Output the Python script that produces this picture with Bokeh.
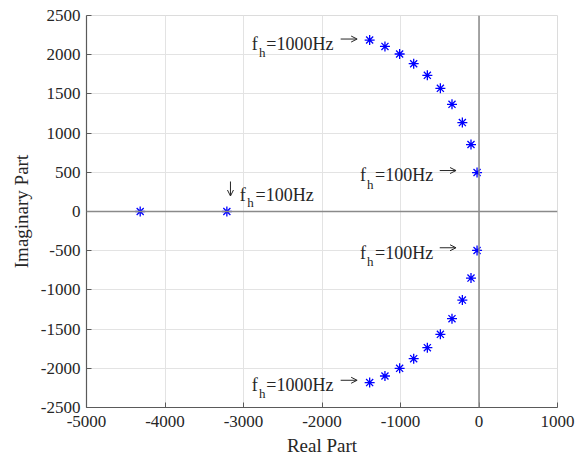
from bokeh.plotting import figure
from bokeh.models import Range1d, FixedTicker, Span, Label, CustomJSTickFormatter, Arrow, OpenHead
from bokeh.embed import file_html
from bokeh.resources import INLINE

# ---- data ----
upper_re = [-1393, -1198, -1011, -832, -658, -492, -344, -212, -102, -25]
upper_im = [2187, 2106, 2009, 1885, 1737, 1571, 1367, 1134, 854, 497]
lower_re = [-1393, -1198, -1011, -832, -658, -492, -344, -212, -102, -25]
lower_im = [-2182, -2098, -2000, -1877, -1737, -1567, -1367, -1130, -849, -497]
real_re = [-4316, -3212]
real_im = [0, 0]

x_ticks = [-5000, -4000, -3000, -2000, -1000, 0, 1000]
x_tick_labels = ["-5000", "-4000", "-3000", "-2000", "-1000", "0", "1000"]
y_ticks = [-2500, -2000, -1500, -1000, -500, 0, 500, 1000, 1500, 2000, 2500]
y_tick_labels = ["-2500", "-2000", "-1500", "-1000", "-500", "0", "500",
                 "1000", "1500", "2000", "2500"]

FONT = "Liberation Serif"
AX_COL = "#5a5a5a"
TXT_COL = "#262626"

X0, X1, Y0, Y1 = -5000, 1000, -2500, 2500
W, H = 575, 464
BL, BR, BT, BB = 86, 18, 15, 57
FW, FH = W - BL - BR, H - BT - BB
PX_X = (X1 - X0) / FW   # data units per screen pixel (for offsets)
PX_Y = (Y1 - Y0) / FH

p = figure(width=W, height=H, output_backend="svg", toolbar_location=None,
           x_range=Range1d(X0, X1), y_range=Range1d(Y0, Y1),
           min_border_left=BL, min_border_right=BR, min_border_top=BT,
           min_border_bottom=BB)
p.background_fill_color = "white"
p.border_fill_color = "white"
p.outline_line_color = "#dcdcdc"

FMT_CODE = """
const i = tvals.indexOf(tick);
return i >= 0 ? tlabels[i] : String(tick);
"""
p.xaxis.ticker = FixedTicker(ticks=x_ticks)
p.yaxis.ticker = FixedTicker(ticks=y_ticks)
p.xaxis.formatter = CustomJSTickFormatter(args=dict(tvals=x_ticks, tlabels=x_tick_labels), code=FMT_CODE)
p.yaxis.formatter = CustomJSTickFormatter(args=dict(tvals=y_ticks, tlabels=y_tick_labels), code=FMT_CODE)
p.xaxis.axis_label = "Real Part"
p.yaxis.axis_label = "Imaginary Part"

for ax in (p.xaxis, p.yaxis):
    ax.axis_line_color = AX_COL
    ax.axis_line_width = 1.2
    ax.major_tick_line_color = AX_COL
    ax.major_tick_in = 5
    ax.major_tick_out = 0
    ax.minor_tick_line_color = None
    ax.major_label_text_font = FONT
    ax.major_label_text_font_size = "17px"
    ax.major_label_text_color = TXT_COL
    ax.axis_label_text_font = FONT
    ax.axis_label_text_font_size = "19px"
    ax.axis_label_text_font_style = "normal"
    ax.axis_label_text_color = TXT_COL
p.xaxis.major_label_standoff = 8
p.xaxis.axis_label_standoff = 5
p.yaxis.major_label_standoff = 6
p.yaxis.axis_label_standoff = 6

p.grid.grid_line_color = "#e3e3e3"
p.grid.grid_line_width = 1

# zero lines
p.add_layout(Span(location=0, dimension="height", line_color="#8a8a8a", line_width=1.5))
p.add_layout(Span(location=0, dimension="width", line_color="#8a8a8a", line_width=1.5))

# poles
for xs, ys in ((upper_re, upper_im), (lower_re, lower_im), (real_re, real_im)):
    p.scatter(xs, ys, marker="asterisk", size=10, line_color="#0000ff", line_width=1.3)


def add_annot(x, y, parts, arrow):
    # parts: (text, x_offset px, y_offset px, size); arrow: start/end offsets in px
    for txt, dx, dy, size in parts:
        p.add_layout(Label(x=x, y=y, text=txt, x_offset=dx, y_offset=dy,
                           text_font=FONT, text_font_size=size,
                           text_color=TXT_COL, text_align="left",
                           text_baseline="alphabetic"))
    sx, sy, ex, ey = arrow
    p.add_layout(Arrow(x_start=x + sx * PX_X, y_start=y + sy * PX_Y,
                       x_end=x + ex * PX_X, y_end=y + ey * PX_Y,
                       line_color=TXT_COL, line_width=1,
                       end=OpenHead(size=6, line_color=TXT_COL, line_width=1)))


add_annot(upper_re[0], upper_im[0],
          [("f", -118, -3.5, "18px"), ("h", -110.7, -12.5, "13px"), ("=1000Hz", -103.3, -3.5, "18px")],
          (-29, 1, -12.5, 1))
add_annot(upper_re[-1], upper_im[-1],
          [("f", -117, -2.5, "18px"), ("h", -110, -11.5, "13px"), ("=100Hz", -102, -2.5, "18px")],
          (-37.3, 2, -21, 2))
add_annot(lower_re[-1], lower_im[-1],
          [("f", -117, -2.5, "18px"), ("h", -110, -11.5, "13px"), ("=100Hz", -102, -2.5, "18px")],
          (-37.3, 2.7, -21, 2.7))
add_annot(lower_re[0], lower_im[0],
          [("f", -118, -2, "18px"), ("h", -110.7, -11, "13px"), ("=1000Hz", -103.3, -2, "18px")],
          (-29, 2.3, -12.5, 2.3))
add_annot(real_re[1], real_im[1],
          [("f", 13, 16.7, "18px"), ("h", 20.4, 8.7, "13px"), ("=100Hz", 28.7, 16.7, "18px")],
          (3.6, 30, 3.6, 15.5))

open("out.html", "w").write(file_html(p, INLINE))
